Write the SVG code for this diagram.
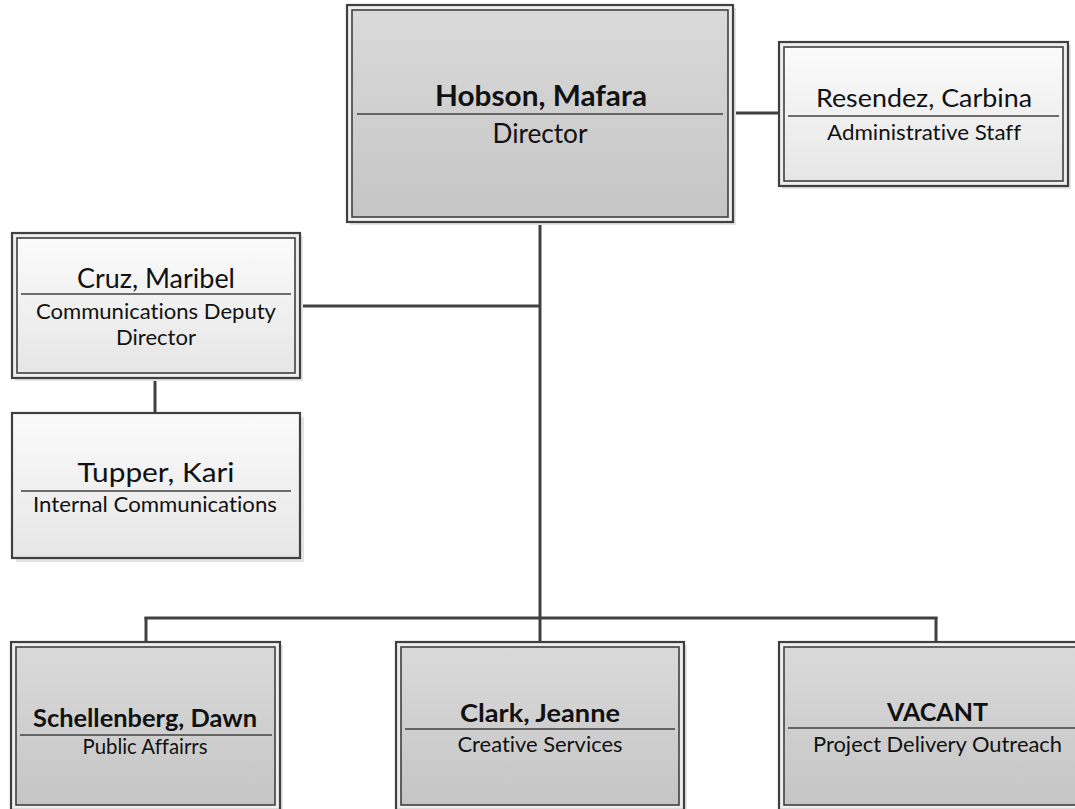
<svg xmlns="http://www.w3.org/2000/svg" width="1075" height="809" viewBox="0 0 1075 809">
<defs>
<linearGradient id="gDark" x1="0" y1="0" x2="0" y2="1">
<stop offset="0" stop-color="#dadada"/>
<stop offset="1" stop-color="#c5c5c5"/>
</linearGradient>
<linearGradient id="gLight" x1="0" y1="0" x2="0" y2="1">
<stop offset="0" stop-color="#fbfbfb"/>
<stop offset="1" stop-color="#e6e6e6"/>
</linearGradient>
</defs>
<style>
.outer{fill:#eeeeee;stroke:#404040;stroke-width:2.2}
.single{stroke:#404040;stroke-width:2.2}
.inner{stroke:#404040;stroke-width:1.6}
.dark{fill:url(#gDark)}
.light{fill:url(#gLight)}
.shadow{fill:#e4e4e4}
.div{stroke:#404040;stroke-width:1.6}
text{font-family:Lato,"Liberation Sans",sans-serif;fill:#111;text-anchor:middle;font-variant-ligatures:none;font-feature-settings:"liga" 0,"clig" 0}
.nb{font-weight:bold}
.conn line{stroke:#404040;stroke-width:3;stroke-linecap:butt}
</style>
<rect width="1075" height="809" fill="#ffffff"/>
<g class="conn" id="connectors">
<line x1="540" y1="222" x2="540" y2="642"/>
<line x1="300" y1="306" x2="540" y2="306"/>
<line x1="733" y1="113" x2="779" y2="113"/>
<line x1="155" y1="378" x2="155" y2="413"/>
<line x1="144.5" y1="618" x2="937.5" y2="618"/>
<line x1="146" y1="617" x2="146" y2="642"/>
<line x1="936" y1="617" x2="936" y2="642"/>
</g>
<g id="hobson">
<rect class="shadow" x="350" y="8" width="386" height="217"/>
<rect class="outer" x="347" y="5" width="386" height="217"/>
<rect class="inner dark" x="352" y="10" width="376" height="207"/>
<line class="div" x1="357" y1="114" x2="723" y2="114"/>
<text class="nb" x="541" y="106" font-size="29" textLength="212" lengthAdjust="spacingAndGlyphs">Hobson, Mafara</text>
<text x="540" y="143" font-size="26" textLength="95" lengthAdjust="spacingAndGlyphs">Director</text>
</g>
<g id="resendez">
<rect class="shadow" x="782" y="45" width="289" height="144"/>
<rect class="outer" x="779" y="42" width="289" height="144"/>
<rect class="inner light" x="784" y="47" width="279" height="134"/>
<line class="div" x1="788" y1="116" x2="1059" y2="116"/>
<text x="924" y="107" font-size="25.5" textLength="216" lengthAdjust="spacingAndGlyphs">Resendez, Carbina</text>
<text x="924" y="140" font-size="21.5" textLength="194" lengthAdjust="spacingAndGlyphs">Administrative Staff</text>
</g>
<g id="cruz">
<rect class="shadow" x="15" y="236" width="288" height="145"/>
<rect class="outer" x="12" y="233" width="288" height="145"/>
<rect class="inner light" x="17" y="238" width="278" height="135"/>
<line class="div" x1="21" y1="294" x2="291" y2="294"/>
<text x="156" y="288" font-size="26" textLength="158" lengthAdjust="spacingAndGlyphs">Cruz, Maribel</text>
<text x="156" y="319" font-size="21.5" textLength="240" lengthAdjust="spacingAndGlyphs">Communications Deputy</text>
<text x="156" y="345" font-size="21.5" textLength="80" lengthAdjust="spacingAndGlyphs">Director</text>
</g>
<g id="tupper">
<rect class="shadow" x="16" y="417" width="288" height="145"/>
<rect class="single light" x="12" y="413" width="288" height="145"/>
<line class="div" x1="21" y1="491" x2="291" y2="491"/>
<text x="156" y="482" font-size="27.5" textLength="157" lengthAdjust="spacingAndGlyphs">Tupper, Kari</text>
<text x="155" y="512" font-size="21.5" textLength="244" lengthAdjust="spacingAndGlyphs">Internal Communications</text>
</g>
<g id="schellenberg">
<rect class="shadow" x="14" y="645" width="269" height="168"/>
<rect class="outer" x="11" y="642" width="269" height="168"/>
<rect class="inner dark" x="16" y="647" width="259" height="158"/>
<line class="div" x1="20" y1="735" x2="272" y2="735"/>
<text class="nb" x="145" y="727" font-size="25" textLength="224" lengthAdjust="spacingAndGlyphs">Schellenberg, Dawn</text>
<text x="145" y="754" font-size="21.5" textLength="125" lengthAdjust="spacingAndGlyphs">Public Affairrs</text>
</g>
<g id="clark">
<rect class="shadow" x="399" y="645" width="288" height="168"/>
<rect class="outer" x="396" y="642" width="288" height="168"/>
<rect class="inner dark" x="401" y="647" width="278" height="158"/>
<line class="div" x1="405" y1="729" x2="675" y2="729"/>
<text class="nb" x="540" y="722" font-size="25" textLength="160" lengthAdjust="spacingAndGlyphs">Clark, Jeanne</text>
<text x="540" y="752" font-size="21.5" textLength="165" lengthAdjust="spacingAndGlyphs">Creative Services</text>
</g>
<g id="vacant">
<rect class="shadow" x="782" y="645" width="316" height="168"/>
<rect class="outer" x="779" y="642" width="316" height="168"/>
<rect class="inner dark" x="784" y="647" width="306" height="158"/>
<line class="div" x1="788" y1="728" x2="1086" y2="728"/>
<text class="nb" x="937.5" y="721" font-size="25" textLength="101" lengthAdjust="spacingAndGlyphs">VACANT</text>
<text x="937.5" y="752" font-size="21.5" textLength="249" lengthAdjust="spacingAndGlyphs">Project Delivery Outreach</text>
</g>
</svg>
